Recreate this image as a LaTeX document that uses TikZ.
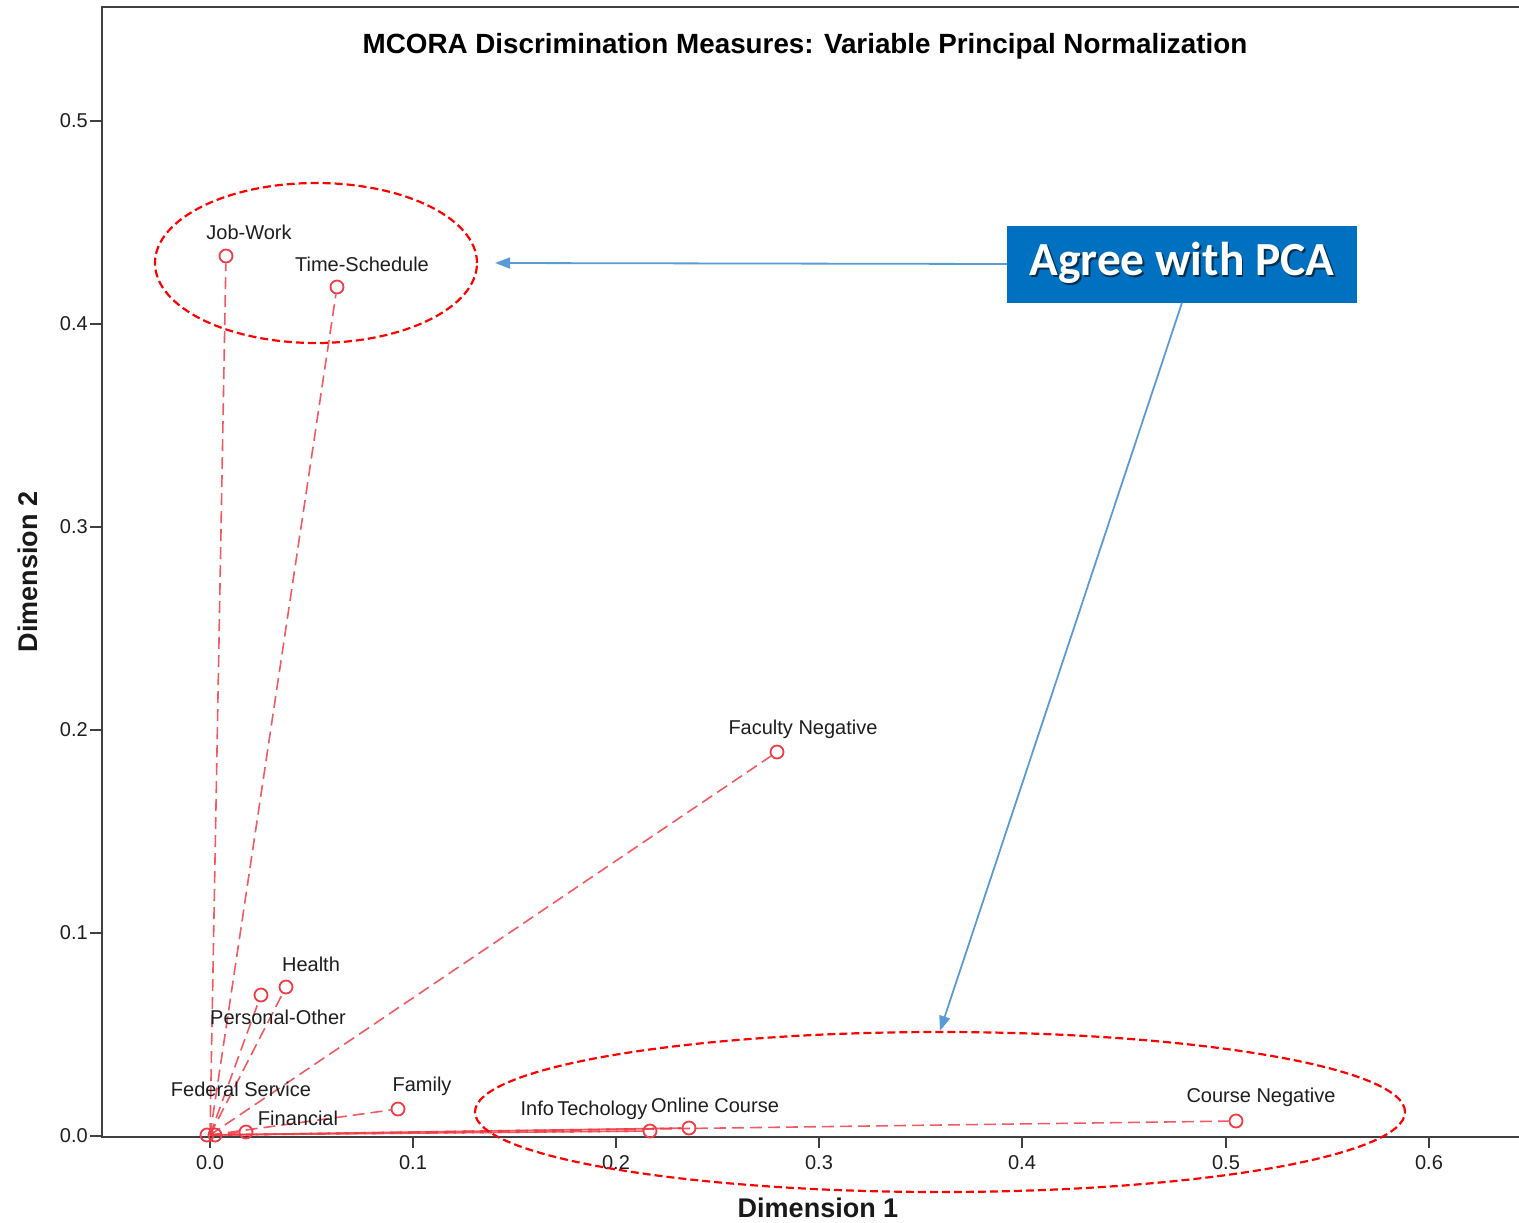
\documentclass[tikz,border=0pt]{standalone}
\usepackage{fontspec}
\setmainfont{Liberation Sans}
\newfontfamily\calibri{Carlito}
\usetikzlibrary{arrows.meta,shapes.geometric}
\definecolor{axisgray}{HTML}{404040}
\definecolor{labelgray}{HTML}{1E1E1E}
\definecolor{ptred}{HTML}{F03C46}
\definecolor{ringred}{HTML}{FF0000}
\definecolor{calloutblue}{HTML}{0070C0}
\definecolor{shadowblue}{HTML}{00304F}
\definecolor{arrowblue}{HTML}{5B9BD5}
\newcommand\dropshadowtext[1]{\rlap{\hspace{1.8pt}\raisebox{-1.8pt}{\textcolor{shadowblue}{#1}}}#1}

\begin{document}
\begin{tikzpicture}[x=1pt,y=-1pt,
  axis/.style={draw=axisgray,line width=2.4pt},
  tick/.style={draw=axisgray,line width=2pt},
  ticklbl/.style={font=\fontsize{20}{24}\selectfont,text=labelgray,inner sep=0},
  ptlbl/.style={font=\fontsize{20}{24}\selectfont,text=labelgray,inner sep=0},
  pt/.style={circle,draw=ptred,line width=1.8pt,minimum size=13pt,inner sep=0},
  spoke/.style={draw=ptred,opacity=0.85,line width=1.6pt,dash pattern=on 12pt off 6pt},
  ring/.style={ellipse,draw=ringred,line width=2.2pt,dash pattern=on 8pt off 4pt,inner sep=0},
  callout/.style={-{Triangle[length=15pt,width=11pt]},draw=arrowblue,line width=1.8pt},
  pcabox/.style={fill=calloutblue,text=white,minimum width=350pt,minimum height=77pt,inner sep=0},
]
\useasboundingbox (0,0) rectangle (1519,1223);

% frame and axes
\draw[axis] (1519,7) -- (102,7) -- (102,1137) -- (1519,1137);

% y ticks
\foreach \v/\y in {0.0/1136,0.1/933,0.2/730,0.3/527,0.4/324,0.5/121}{
  \draw[tick] (90,\y) -- (102,\y);
  \node[ticklbl,anchor=east] at (88,\y) {\v};
}
% x ticks
\foreach \v/\x in {0.0/210,0.1/413,0.2/616,0.3/819,0.4/1022,0.5/1226,0.6/1429}{
  \draw[tick] (\x,1137) -- (\x,1148);
  \node[ticklbl] at (\x,1163) {\v};
}

% titles
\node[font=\bfseries\fontsize{27.8}{32}\selectfont,text=black] (title) at (805,46)
  {MCORA Discrimination Measures: Variable Principal Normalization};
\node[font=\bfseries\fontsize{27}{32}\selectfont,text=black!90] (xlab) at (818,1208) {Dimension 1};
\node[font=\bfseries\fontsize{27}{32}\selectfont,text=black!90,rotate=90] (ylab) at (28,572) {Dimension 2};

% origin of the discrimination vectors
\coordinate (o) at (210,1135);

% variable points
\node[pt] (jw) at (226,256) {};
\node[pt] (ts) at (337,287) {};
\node[pt] (fn) at (777,752) {};
\node[pt] (he) at (286,987) {};
\node[pt] (po) at (261,995) {};
\node[pt] (fa) at (398,1109) {};
\node[pt] (fs) at (207,1135) {};
\node[pt] (fi) at (246,1132) {};
\node[pt] (it) at (650,1131) {};
\node[pt] (oc) at (689,1128) {};
\node[pt] (cn) at (1236,1121) {};
\node[pt] (ox) at (215,1135) {};

% vectors from the origin
\foreach \p in {jw,ts,fn,he,po,fa,fi,it,oc,cn}{
  \draw[spoke] (o) -- (\p);
}
\draw[spoke,dash phase=8pt] (o) -- (oc);
\draw[spoke,dash phase=8pt] (o) -- (it);

% point labels
\node[ptlbl] (ljw) at (249,232) {Job-Work};
\node[ptlbl] (lts) at (362,264) {Time-Schedule};
\node[ptlbl] (lfn) at (803,729) {Faculty Negative};
\node[ptlbl] (lhe) at (311,964) {Health};
\node[ptlbl] (lpo) at (278,1017) {Personal-Other};
\node[ptlbl] (lfa) at (422,1086) {Family};
\node[ptlbl] (lfs) at (241,1089) {Federal Service};
\node[ptlbl] (lfi) at (298,1118) {Financial};
\node[ptlbl] (lit) at (584,1110) {Info\,Techology};
\node[ptlbl] (loc) at (715,1105) {Online Course};
\node[ptlbl] (lcn) at (1261,1097) {Course Negative};

% highlighted groups
\node[ring,minimum width=322pt,minimum height=160pt] (g1) at (316,263) {};
\node[ring,minimum width=930pt,minimum height=160pt] (g2) at (940,1112) {};

% callout
\node[pcabox,font=\calibri\bfseries\fontsize{47.5}{54}\selectfont] (pca) at (1182,264)
  {\dropshadowtext{Agree with PCA}};
\draw[callout] (pca.west) -- ([xshift=17pt]g1.east);
\draw[callout] (pca.south) -- (g2.north);
\end{tikzpicture}
\end{document}
